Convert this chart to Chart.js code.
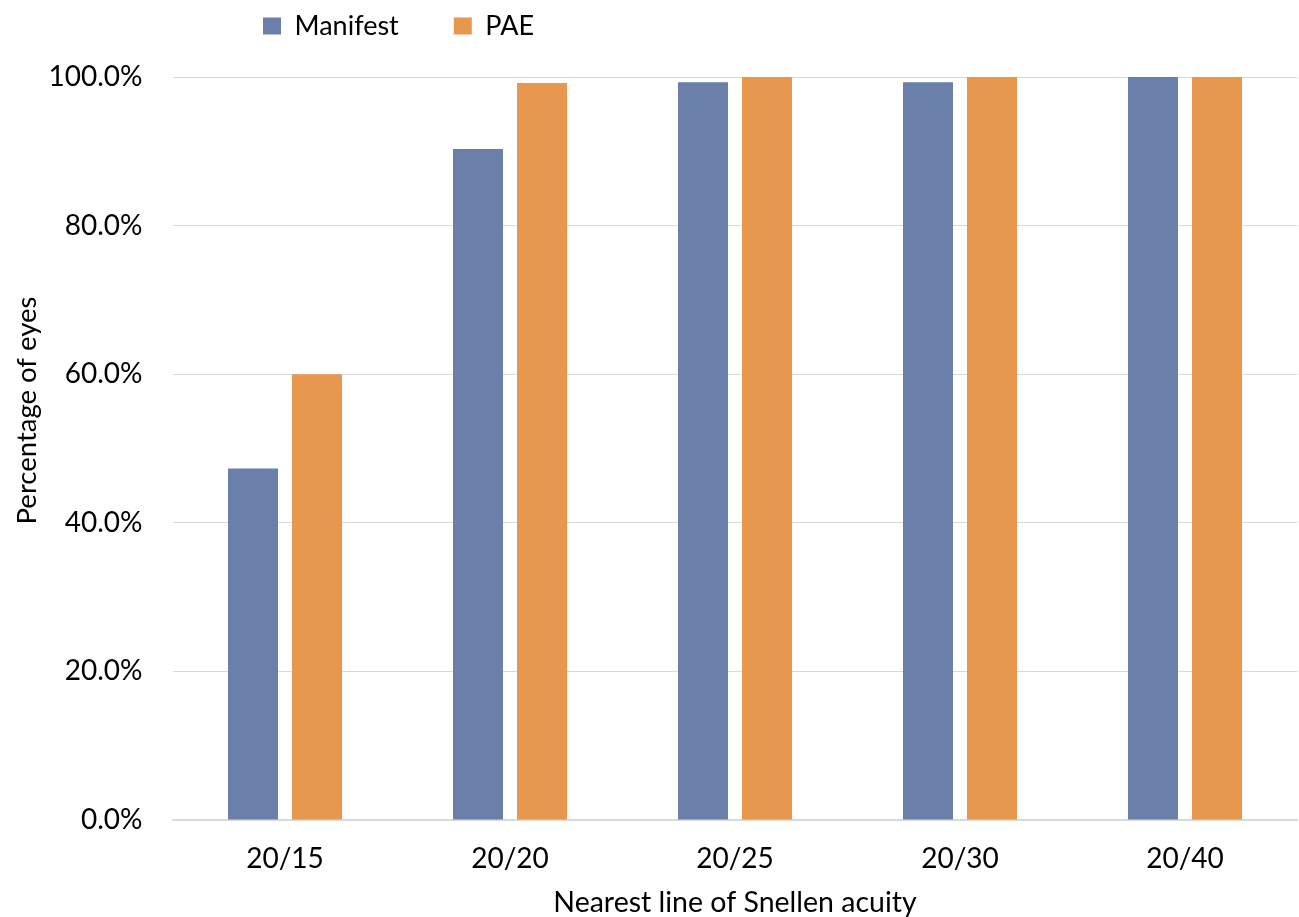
<!DOCTYPE html>
<html><head><meta charset="utf-8">
<script src="https://cdn.jsdelivr.net/npm/chart.js@4/dist/chart.umd.min.js"></script>
<style>html,body{margin:0;padding:0;background:#fff}canvas{display:block}</style>
</head><body>
<canvas id="c" width="1299" height="917" style="width:1299px;height:917px"></canvas>
<script>
const categories = ['20/15', '20/20', '20/25', '20/30', '20/40'];
const manifestValues = [47.3, 90.3, 99.3, 99.3, 100];
const paeValues = [60.0, 99.2, 100, 100, 100];
const yTicks = [0, 20, 40, 60, 80, 100];
const seriesNames = ['Manifest', 'PAE'];
const xTitle = 'Nearest line of Snellen acuity';
const yTitle = 'Percentage of eyes';

const FONT = 'Lato';
const TICK_SIZE = 28;
const TITLE_SIZE = 28.5;
const LEGEND_SIZE = 27;

const legendPlacer = {
  id: 'legendPlacer',
  afterInit(chart) {
    const lg = chart.legend;
    const fit = lg.fit.bind(lg);
    lg.fit = function () { fit(); this.height = 77; };
  },
  afterLayout(chart) {
    const lg = chart.legend;
    const pad = lg.options.labels.padding;
    lg.left = 263 - pad;
    lg.right = chart.width;
    lg.top = 26 - pad - LEGEND_SIZE / 2;
    lg.bottom = lg.top + 120;
  }
};

const yTitlePlugin = {
  id: 'yTitlePlugin',
  afterDraw(chart) {
    const ctx = chart.ctx;
    const a = chart.chartArea;
    ctx.save();
    ctx.translate(27, (a.top + a.bottom) / 2 - 38);
    ctx.rotate(-Math.PI / 2);
    ctx.font = '27.5px ' + FONT;
    ctx.fillStyle = '#000';
    ctx.textAlign = 'center';
    ctx.textBaseline = 'middle';
    ctx.fillText(yTitle, 0, 0);
    ctx.restore();
  }
};

new Chart(document.getElementById('c'), {
  type: 'bar',
  data: {
    labels: categories,
    datasets: [
      { label: seriesNames[0], data: manifestValues, backgroundColor: '#6a7fa9', borderWidth: 0 },
      { label: seriesNames[1], data: paeValues, backgroundColor: '#e8974f', borderWidth: 0 }
    ]
  },
  options: {
    responsive: false,
    animation: false,
    devicePixelRatio: 1,
    categoryPercentage: 0.569,
    barPercentage: 0.781,
    layout: { padding: { left: 0, right: 1.5, top: 0, bottom: 0 } },
    plugins: {
      tooltip: { enabled: false },
      legend: {
        position: 'top',
        align: 'start',
        labels: {
          boxWidth: 18,
          boxHeight: 17,
          padding: 55,
          color: '#000',
          font: { family: FONT, size: LEGEND_SIZE }
        }
      }
    },
    scales: {
      x: {
        grid: { display: false, drawTicks: false },
        border: { display: true, color: '#d9d9d9', width: 1.5 },
        ticks: { color: '#000', padding: 22, font: { family: FONT, size: TICK_SIZE } },
        title: {
          display: true, text: xTitle, color: '#000',
          font: { family: FONT, size: TITLE_SIZE, lineHeight: 1.2 },
          padding: { top: 0, bottom: -3 }
        },
        afterFit(s) { s.height = 97; }
      },
      y: {
        min: 0, max: 100,
        grid: { color: '#d9d9d9', lineWidth: 1, drawTicks: false },
        border: { display: false },
        afterBuildTicks(s) { s.ticks = yTicks.map(v => ({ value: v })); },
        ticks: {
          color: '#000', padding: 30,
          font: { family: FONT, size: TICK_SIZE },
          callback: v => Number(v).toFixed(1) + '%'
        },
        afterFit(s) { s.width = 172.5; }
      }
    }
  },
  plugins: [legendPlacer, yTitlePlugin]
});
</script>
</body></html>
